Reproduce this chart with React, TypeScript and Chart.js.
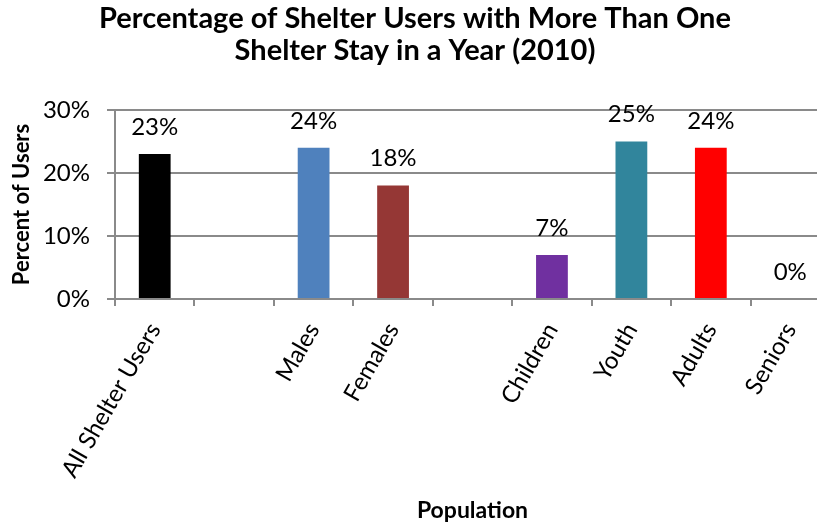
import React, { useEffect, useRef } from "react";
import { Chart, registerables } from "chart.js";

Chart.register(...registerables);

const categories: string[] = [
  "All Shelter Users",
  "",
  "Males",
  "Females",
  "",
  "Children",
  "Youth",
  "Adults",
  "Seniors",
];
const values: (number | null)[] = [23, null, 24, 18, null, 7, 25, 24, 0];
const barColors: string[] = [
  "#000000",
  "#000000",
  "#4F81BD",
  "#953735",
  "#000000",
  "#7030A0",
  "#31859C",
  "#FF0000",
  "#FFFFFF",
];
const yTicks: number[] = [0, 10, 20, 30];
const titleLines: string[] = [
  "Percentage of Shelter Users with More Than One",
  "Shelter Stay in a Year (2010)",
];

const FONT = "Lato, 'Open Sans', sans-serif";
const GRID = "#8a8a8a";

const dataLabels = {
  id: "dataLabels",
  afterDatasetsDraw(chart: any) {
    const ctx = chart.ctx;
    const meta = chart.getDatasetMeta(0);
    ctx.save();
    ctx.font = `24px ${FONT}`;
    ctx.fillStyle = "#000";
    ctx.textAlign = "center";
    ctx.textBaseline = "middle";
    meta.data.forEach((bar: any, i: number) => {
      const v = values[i];
      if (v === null || v === undefined) return;
      ctx.fillText(`${v}%`, bar.x, bar.y - 27);
    });
    ctx.restore();
  },
};

export default function App() {
  const ref = useRef<HTMLCanvasElement | null>(null);
  useEffect(() => {
    if (!ref.current) return;
    const chart = new Chart(ref.current, {
      type: "bar",
      data: {
        labels: categories,
        datasets: [
          {
            data: values as any,
            backgroundColor: barColors,
            barPercentage: 0.4,
            categoryPercentage: 1,
          },
        ],
      },
      options: {
        animation: false,
        responsive: false,
        layout: { padding: { left: 0, right: 20, top: 0, bottom: 0 } },
        plugins: {
          legend: { display: false },
          tooltip: { enabled: false },
          title: {
            display: true,
            text: titleLines,
            color: "#000",
            font: { family: FONT, size: 29, weight: "bold", lineHeight: 1.12 },
            padding: { top: 2, bottom: 43 },
          },
        },
        scales: {
          x: {
            afterFit(scale: any) {
              scale.height = 228;
            },
            grid: {
              offset: true,
              drawOnChartArea: false,
              drawTicks: true,
              tickLength: 7,
              color: GRID,
              lineWidth: 2,
            },
            border: { display: true, color: GRID, width: 2 },
            ticks: {
              autoSkip: false,
              maxRotation: 60,
              minRotation: 60,
              color: "#000",
              padding: 12,
              font: { family: FONT, size: 24 },
            },
            title: {
              display: true,
              text: "Population",
              color: "#000",
              font: { family: FONT, size: 23, weight: "bold" },
              padding: { top: 0, bottom: 3 },
            },
          },
          y: {
            min: 0,
            max: 30,
            afterFit(scale: any) {
              scale.width = 115;
            },
            afterBuildTicks(scale: any) {
              scale.ticks = yTicks.map((v) => ({ value: v }));
            },
            grid: {
              color: GRID,
              lineWidth: 2,
              drawTicks: true,
              tickLength: 8,
            },
            border: { display: true, color: GRID, width: 2 },
            ticks: {
              color: "#000",
              padding: 17,
              font: { family: FONT, size: 24 },
              callback: (v: any) => `${v}%`,
            },
            title: {
              display: true,
              text: "Percent of Users",
              color: "#000",
              font: { family: FONT, size: 22, weight: "bold" },
              padding: { top: 9, bottom: 0 },
            },
          },
        },
      },
      plugins: [dataLabels],
    });
    return () => chart.destroy();
  }, []);

  return (
    <div
      style={{
        position: "fixed",
        left: 0,
        top: 0,
        width: 817,
        height: 527,
        overflow: "hidden",
        background: "#fff",
      }}
    >
      <canvas ref={ref} width={850} height={527} />
    </div>
  );
}
